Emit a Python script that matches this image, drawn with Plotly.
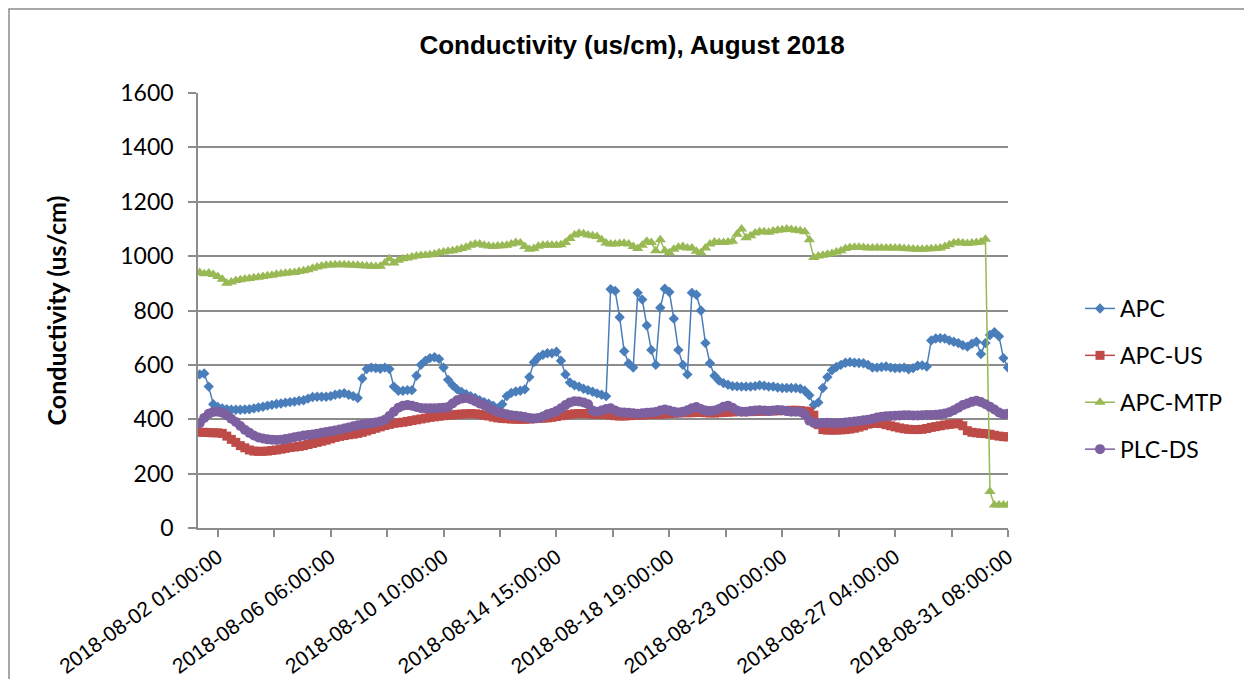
import plotly.graph_objects as go

# category index (hourly records); one sample every 4 records
hours = list(range(1, 718, 4))

apc = [565, 568, 520, 455, 445, 440, 437, 435, 435, 435,
       436, 437, 440, 443, 446, 450, 453, 456, 458, 461,
       463, 465, 468, 470, 476, 482, 483, 483, 483, 485,
       490, 493, 496, 490, 485, 478, 550, 585, 590, 588,
       586, 590, 585, 520, 505, 505, 507, 507, 560, 600,
       615, 625, 628, 622, 590, 545, 525, 510, 500, 492,
       485, 478, 470, 463, 457, 450, 440, 455, 485, 497,
       502, 505, 510, 555, 610, 628, 637, 643, 643, 648,
       615, 565, 535, 525, 520, 512, 507, 501, 495, 490,
       485, 878, 872, 775, 650, 605, 590, 865, 840, 745,
       655, 600, 810, 880, 868, 770, 655, 600, 565, 865,
       858, 800, 680, 606, 560, 542, 533, 527, 522, 521,
       520, 520, 520, 522, 525, 523, 520, 520, 517, 515,
       515, 515, 515, 512, 505, 488, 452, 462, 515, 555,
       580, 592, 600, 608, 610, 608, 607, 606, 600, 590,
       590, 592, 594, 590, 588, 588, 590, 584, 588, 597,
       598, 594, 690, 697, 698, 697, 690, 685, 680, 672,
       667, 678, 685, 640, 680, 710, 720, 705, 625, 590]

apc_us = [352, 352, 351, 350, 350, 348, 338, 326, 315, 303,
          295, 287, 283, 282, 282, 283, 285, 287, 290, 293,
          296, 298, 300, 303, 307, 311, 315, 319, 323, 328,
          333, 337, 340, 343, 345, 348, 352, 357, 362, 367,
          372, 377, 381, 385, 387, 389, 392, 395, 398, 401,
          404, 407, 409, 411, 413, 415, 416, 418, 419, 420,
          421, 420, 418, 415, 412, 408, 405, 403, 402, 401,
          400, 400, 400, 401, 402, 403, 404, 405, 407, 410,
          413, 416, 418, 420, 421, 421, 420, 419, 418, 418,
          418, 415, 413, 412, 412, 413, 414, 415, 416, 417,
          418, 418, 419, 420, 421, 422, 423, 424, 424, 424,
          425, 425, 424, 423, 423, 424, 425, 426, 427, 428,
          428, 428, 428, 429, 429, 430, 430, 431, 431, 432,
          432, 433, 433, 432, 430, 428, 415, 380, 362, 360,
          360, 360, 361, 362, 364, 367, 371, 376, 382, 385,
          385, 384, 380, 376, 372, 368, 365, 363, 362, 362,
          363, 366, 370, 373, 376, 379, 381, 383, 384, 376,
          358, 352, 350, 348, 347, 345, 341, 338, 336, 335]

apc_mtp = [940, 935, 938, 932, 925, 915, 900, 905, 910, 913,
           916, 918, 920, 922, 925, 928, 930, 933, 935, 937,
           939, 940, 943, 946, 950, 955, 960, 964, 966, 967,
           968, 968, 968, 967, 966, 966, 965, 964, 963, 962,
           963, 975, 990, 975, 985, 990, 993, 997, 1000, 1002,
           1003, 1005, 1008, 1012, 1015, 1018, 1020, 1023, 1028, 1033,
           1040, 1045, 1045, 1040, 1037, 1035, 1037, 1038, 1040, 1045,
           1050, 1048, 1035, 1025, 1028, 1036, 1040, 1041, 1040, 1040,
           1042, 1050, 1065, 1078, 1084, 1082, 1078, 1075, 1072, 1060,
           1048, 1045, 1045, 1046, 1047, 1045, 1035, 1028, 1040, 1055,
           1050, 1020, 1060, 1020, 1012, 1025, 1033, 1035, 1030, 1030,
           1018, 1012, 1030, 1045, 1052, 1050, 1050, 1052, 1055, 1080,
           1100, 1068, 1075, 1085, 1090, 1090, 1088, 1092, 1095, 1097,
           1100, 1098, 1095, 1093, 1090, 1060, 995, 1000, 1003, 1007,
           1010, 1015, 1020, 1028, 1032, 1033, 1033, 1032, 1030, 1030,
           1031, 1030, 1030, 1030, 1030, 1030, 1028, 1027, 1026, 1025,
           1025, 1026, 1027, 1028, 1030, 1035, 1042, 1048, 1050, 1048,
           1046, 1048, 1050, 1052, 1062, 134, 85, 85, 85, 85]

plc_ds = [385, 405, 420, 427, 428, 424, 415, 402, 390, 375,
          361, 350, 340, 333, 329, 326, 325, 324, 325, 327,
          330, 334, 337, 340, 342, 344, 347, 350, 353, 356,
          359, 362, 366, 370, 374, 378, 381, 383, 385, 388,
          392, 398, 412, 428, 442, 450, 452, 450, 445, 441,
          440, 440, 440, 441, 442, 445, 458, 470, 476, 478,
          474, 466, 458, 452, 442, 434, 427, 422, 418, 415,
          413, 411, 408, 405, 403, 405, 410, 418, 423, 430,
          440, 452, 462, 466, 465, 462, 455, 432, 428, 432,
          438, 440, 432, 426, 425, 424, 422, 420, 422, 424,
          425, 427, 432, 436, 432, 428, 425, 428, 433, 440,
          445, 438, 432, 430, 432, 438, 446, 450, 442, 432,
          428, 428, 430, 432, 433, 432, 430, 432, 434, 433,
          430, 428, 428, 427, 418, 395, 386, 385, 386, 387,
          386, 385, 386, 388, 390, 392, 394, 396, 398, 402,
          406, 409, 411, 412, 413, 414, 415, 415, 414, 414,
          415, 416, 416, 417, 418, 421, 426, 433, 442, 452,
          458, 464, 468, 463, 455, 446, 436, 425, 418, 420]

tick_positions = [17, 67, 117, 167, 217, 267, 317, 367, 417, 467, 517, 567, 617, 667, 717]
tick_labels = ["2018-08-02 01:00:00", "", "2018-08-06 06:00:00", "", "2018-08-10 10:00:00", "",
               "2018-08-14 15:00:00", "", "2018-08-18 19:00:00", "", "2018-08-23 00:00:00", "",
               "2018-08-27 04:00:00", "", "2018-08-31 08:00:00"]

series = [
    ("APC", apc, "#4A7EBB", "diamond", 8),
    ("APC-US", apc_us, "#BE4B48", "square", 9),
    ("APC-MTP", apc_mtp, "#98B954", "triangle-up", 10),
    ("PLC-DS", plc_ds, "#7D60A0", "circle", 10),
]

fig = go.Figure()
for name, vals, col, sym, sz in series:
    fig.add_trace(go.Scatter(
        x=hours, y=vals, name=name, mode="lines+markers",
        line=dict(color=col, width=1.5),
        marker=dict(symbol=sym, size=sz, color=col, line=dict(width=0)),
        legendgroup=name,
    ))

OFF = 8                      # page body margin
W, H = 1252 - 2 * OFF, 687 - 2 * OFF
# plot area in page pixels
PL, PR, PT, PB = 198, 1008, 93, 528
L, R, T, B = PL - OFF, PR - OFF, PT - OFF, PB - OFF

def px(xpage):
    return (xpage - PL) / (PR - PL)

def py(ypage):
    return (PB - ypage) / (PB - PT)

fig.update_layout(
    width=W, height=H,
    margin=dict(l=L, r=W - R, t=T, b=H - B, pad=0, autoexpand=False),
    paper_bgcolor="white", plot_bgcolor="white",
    title=dict(text="<b>Conductivity (us/cm), August 2018</b>",
               font=dict(family="Liberation Sans, Arial", size=26, color="black"),
               x=(632 - OFF) / W, xanchor="center", y=1 - (45 - OFF) / H, yanchor="middle"),
    showlegend=True,
    legend=dict(x=px(1080), xanchor="left", y=py(287), yanchor="top",
                font=dict(family="Lato", size=23, color="black"),
                traceorder="grouped", tracegroupgap=14,
                bgcolor="rgba(0,0,0,0)"),
    xaxis=dict(range=[-0.5, 717], showgrid=False, zeroline=False, automargin=False,
               showline=True, linecolor="#8C8C8C", linewidth=1.5,
               tickmode="array", tickvals=tick_positions, ticktext=tick_labels,
               ticks="outside", ticklen=7, tickcolor="#8C8C8C", tickwidth=1.5,
               tickangle=-36,
               tickfont=dict(family="Liberation Sans, Arial", size=21, color="black")),
    yaxis=dict(range=[0, 1600], dtick=200, showgrid=True, gridcolor="#8C8C8C",
               gridwidth=1.5, zeroline=False, showline=True, linecolor="#8C8C8C",
               linewidth=1.5, ticks="outside", ticklen=8, tickcolor="#8C8C8C",
               tickwidth=1.5, ticklabelstandoff=10, automargin=False,
               tickfont=dict(family="Lato", size=23, color="black")),
    annotations=[dict(text="<b>Conductivity (us/cm)</b>", xref="paper", yref="paper",
                      x=px(55), y=0.5, xanchor="center", yanchor="middle",
                      textangle=-90, showarrow=False,
                      font=dict(family="Lato", size=25, color="black"))],
    shapes=[dict(type="rect", xref="paper", yref="paper",
                 x0=px(9), x1=px(1270), y0=py(720), y1=py(9),
                 line=dict(color="#8C8C8C", width=1.5), layer="below")],
)

fig.write_html("out.html")
